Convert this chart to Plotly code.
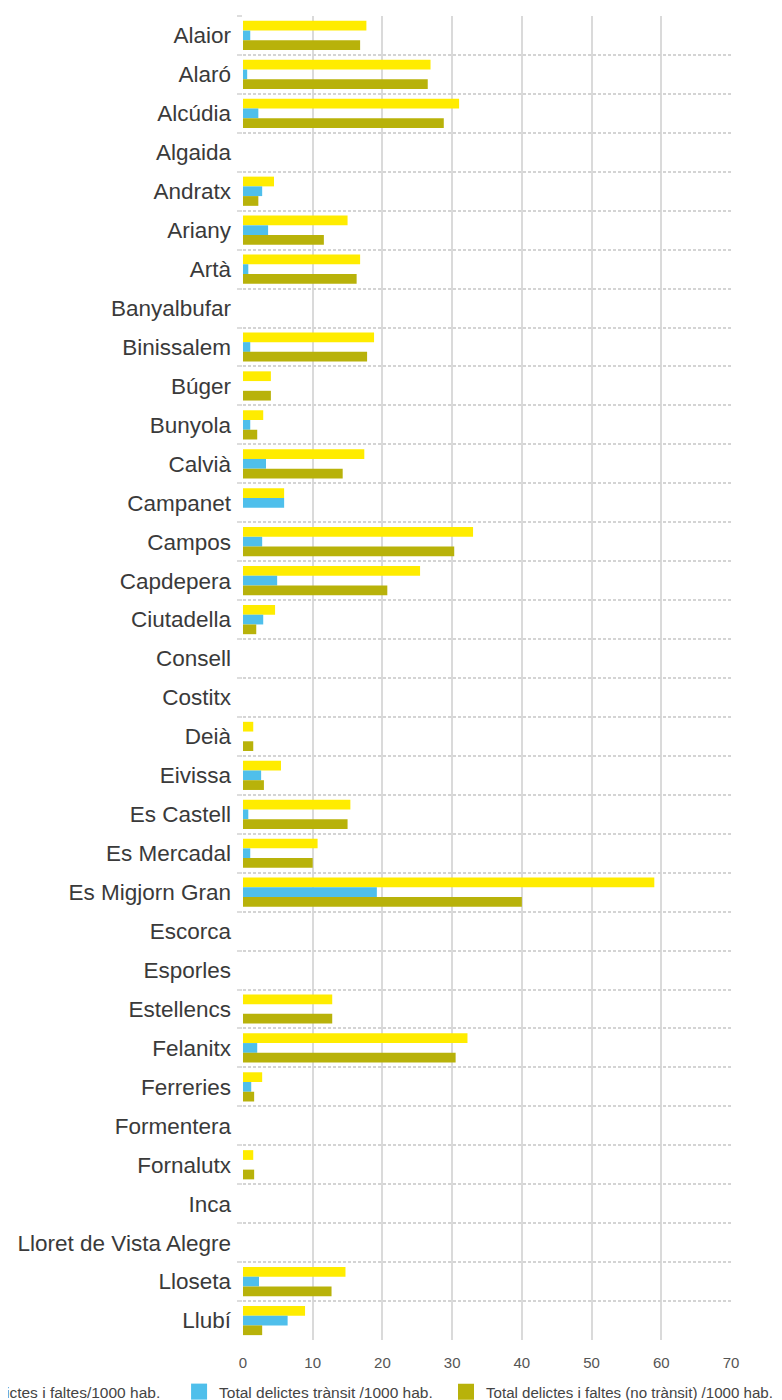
import plotly.graph_objects as go

municipis = ["Alaior", "Alaró", "Alcúdia", "Algaida", "Andratx", "Ariany", "Artà",
             "Banyalbufar", "Binissalem", "Búger", "Bunyola", "Calvià", "Campanet",
             "Campos", "Capdepera", "Ciutadella", "Consell", "Costitx", "Deià",
             "Eivissa", "Es Castell", "Es Mercadal", "Es Migjorn Gran", "Escorca",
             "Esporles", "Estellencs", "Felanitx", "Ferreries", "Formentera",
             "Fornalutx", "Inca", "Lloret de Vista Alegre", "Lloseta", "Llubí"]

total = [17.7, 26.9, 31.0, None, 4.45, 15.0, 16.8,
         None, 18.8, 4.0, 2.9, 17.4, 5.9,
         33.0, 25.4, 4.6, None, None, 1.47,
         5.45, 15.4, 10.7, 59.0, None,
         None, 12.8, 32.2, 2.75, None,
         1.47, None, None, 14.7, 8.9]

transit = [1.04, 0.6, 2.2, None, 2.75, 3.6, 0.76,
           None, 1.04, None, 1.04, 3.3, 5.9,
           2.75, 4.9, 2.9, None, None, None,
           2.6, 0.76, 1.04, 19.2, None,
           None, None, 2.04, 1.18, None,
           None, None, None, 2.3, 6.4]

no_transit = [16.8, 26.5, 28.8, None, 2.2, 11.6, 16.3,
              None, 17.8, 4.0, 2.04, 14.3, None,
              30.3, 20.7, 1.9, None, None, 1.47,
              3.0, 15.0, 10.0, 40.0, None,
              None, 12.8, 30.5, 1.6, None,
              1.6, None, None, 12.7, 2.75]

series_names = ["Total delictes i faltes/1000 hab.",
                "Total delictes trànsit /1000 hab.",
                "Total delictes i faltes (no trànsit) /1000 hab."]
colors = ["#FFEC00", "#4FBFEB", "#B8B20A"]
x_ticks = [0, 10, 20, 30, 40, 50, 60, 70]

legend_ids = ["legend", "legend2", "legend3"]
legend_x = [-0.686, -0.131, 0.416]
legend_font = [15.5, 15.5, 15.1]

fig = go.Figure()
for name, vals, col in zip(series_names, [total, transit, no_transit], colors):
    fig.add_trace(go.Bar(y=municipis, x=vals, name=name, orientation="h",
                         marker=dict(color=col, line=dict(width=0)),
                         showlegend=False))
# legend entries (square swatches), one legend box per series
for name, col, lid in zip(series_names, colors, legend_ids):
    fig.add_trace(go.Scatter(x=[None], y=[None], mode="markers", name=name,
                             marker=dict(symbol="square", size=16, color=col),
                             showlegend=True, legend=lid))

layout_legends = {
    lid: dict(x=lx, orientation="h", xanchor="left", y=-0.0393, yanchor="middle",
              font=dict(size=fs, color="#444"), itemsizing="trace",
              bgcolor="rgba(0,0,0,0)")
    for lid, lx, fs in zip(legend_ids, legend_x, legend_font)
}

fig.update_layout(
    width=782, height=1400,
    margin=dict(l=235, r=59, t=8, b=68, autoexpand=False),
    paper_bgcolor="white", plot_bgcolor="white",
    barmode="group", bargap=0.25, bargroupgap=0,
    font=dict(family="Liberation Sans, Arial, sans-serif", color="#444"),
    showlegend=True,
    **layout_legends,
)
fig.update_xaxes(range=[0, 70], tickvals=x_ticks, showgrid=True, gridcolor="#dadada",
                 gridwidth=1.5, zeroline=False, showline=False, ticks="",
                 tickfont=dict(size=15, color="#555"), ticklabelstandoff=12,
                 fixedrange=True)
fig.update_yaxes(type="category", categoryorder="array", categoryarray=municipis,
                 range=[len(municipis) - 0.5, -0.5], tickson="boundaries",
                 showgrid=True, gridcolor="#d4d4d4", gridwidth=1.5, griddash="3px,2px",
                 ticks="outside", ticklen=5, tickcolor="#dddddd", tickwidth=1.5,
                 showline=False, zeroline=False,
                 tickfont=dict(size=22.5, color="#3a3a3a"), ticklabelstandoff=11,
                 fixedrange=True)

fig.write_html("out.html")
